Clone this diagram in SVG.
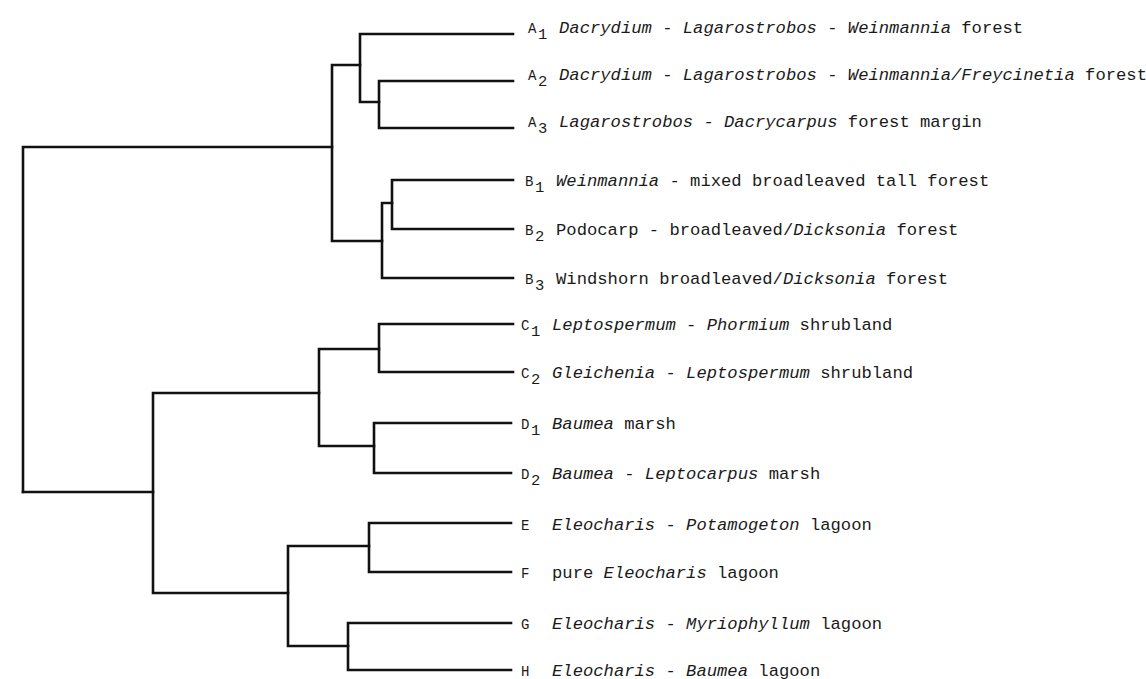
<svg xmlns="http://www.w3.org/2000/svg" width="1146" height="679" viewBox="0 0 1146 679">
<style>
.br{fill:none;stroke:#111;stroke-width:2.6;stroke-linecap:square;stroke-linejoin:miter}
.t{font-family:"Liberation Mono","DejaVu Sans Mono",monospace;font-size:17.2px;fill:#1a1a1a}
.i{font-style:italic}
.l{font-size:14px}
.s{font-size:15.5px}
</style>
<rect width="1146" height="679" fill="#fff"/>
<g id="connectors" class="br">
<path d="M23,492 V147 H332"/>
<path d="M360,65 H332 V241 H382"/>
<path d="M513,34 H360 V102 H379"/>
<path d="M513,81 H379 V128 H513"/>
<path d="M392,203 H382 V278 H513"/>
<path d="M513,180 H392 V229 H513"/>
<path d="M23,492 H153 V393 H319"/>
<path d="M153,492 V593 H288"/>
<path d="M379,349 H319 V446 H374"/>
<path d="M513,324 H379 V372 H513"/>
<path d="M511,423 H374 V473 H511"/>
<path d="M369,546 H288 V646 H348"/>
<path d="M511,523 H369 V572 H511"/>
<path d="M511,623 H348 V670 H511"/>
</g>
<g id="A1" class="t"><text y="33"><tspan x="528" class="l">A</tspan><tspan x="538" class="s" dy="6">1</tspan><tspan x="559" dy="-6" class="i">Dacrydium</tspan> - <tspan class="i">Lagarostrobos</tspan> - <tspan class="i">Weinmannia</tspan> forest</text></g>
<g id="A2" class="t"><text y="80"><tspan x="528" class="l">A</tspan><tspan x="538" class="s" dy="6">2</tspan><tspan x="559" dy="-6" class="i">Dacrydium</tspan> - <tspan class="i">Lagarostrobos</tspan> - <tspan class="i">Weinmannia/Freycinetia</tspan> forest</text></g>
<g id="A3" class="t"><text y="127"><tspan x="528" class="l">A</tspan><tspan x="538" class="s" dy="6">3</tspan><tspan x="559" dy="-6" class="i">Lagarostrobos</tspan> - <tspan class="i">Dacrycarpus</tspan> forest margin</text></g>
<g id="B1" class="t"><text y="186"><tspan x="525" class="l">B</tspan><tspan x="535" class="s" dy="6">1</tspan><tspan x="556" dy="-6" class="i">Weinmannia</tspan> - mixed broadleaved tall forest</text></g>
<g id="B2" class="t"><text y="235"><tspan x="525" class="l">B</tspan><tspan x="535" class="s" dy="6">2</tspan><tspan x="556" dy="-6">Podocarp - broadleaved/</tspan><tspan class="i">Dicksonia</tspan> forest</text></g>
<g id="B3" class="t"><text y="284"><tspan x="525" class="l">B</tspan><tspan x="535" class="s" dy="6">3</tspan><tspan x="556" dy="-6">Windshorn broadleaved/</tspan><tspan class="i">Dicksonia</tspan> forest</text></g>
<g id="C1" class="t"><text y="330"><tspan x="521" class="l">C</tspan><tspan x="531" class="s" dy="6">1</tspan><tspan x="552" dy="-6" class="i">Leptospermum</tspan> - <tspan class="i">Phormium</tspan> shrubland</text></g>
<g id="C2" class="t"><text y="378"><tspan x="521" class="l">C</tspan><tspan x="531" class="s" dy="6">2</tspan><tspan x="552" dy="-6" class="i">Gleichenia</tspan> - <tspan class="i">Leptospermum</tspan> shrubland</text></g>
<g id="D1" class="t"><text y="429"><tspan x="521" class="l">D</tspan><tspan x="531" class="s" dy="6">1</tspan><tspan x="552" dy="-6" class="i">Baumea</tspan> marsh</text></g>
<g id="D2" class="t"><text y="479"><tspan x="521" class="l">D</tspan><tspan x="531" class="s" dy="6">2</tspan><tspan x="552" dy="-6" class="i">Baumea</tspan> - <tspan class="i">Leptocarpus</tspan> marsh</text></g>
<g id="E" class="t"><text y="530"><tspan x="521" class="l">E</tspan><tspan x="552" class="i">Eleocharis</tspan> - <tspan class="i">Potamogeton</tspan> lagoon</text></g>
<g id="F" class="t"><text y="578"><tspan x="521" class="l">F</tspan><tspan x="552">pure </tspan><tspan class="i">Eleocharis</tspan> lagoon</text></g>
<g id="G" class="t"><text y="629"><tspan x="521" class="l">G</tspan><tspan x="552" class="i">Eleocharis</tspan> - <tspan class="i">Myriophyllum</tspan> lagoon</text></g>
<g id="H" class="t"><text y="676"><tspan x="521" class="l">H</tspan><tspan x="552" class="i">Eleocharis</tspan> - <tspan class="i">Baumea</tspan> lagoon</text></g>
</svg>
